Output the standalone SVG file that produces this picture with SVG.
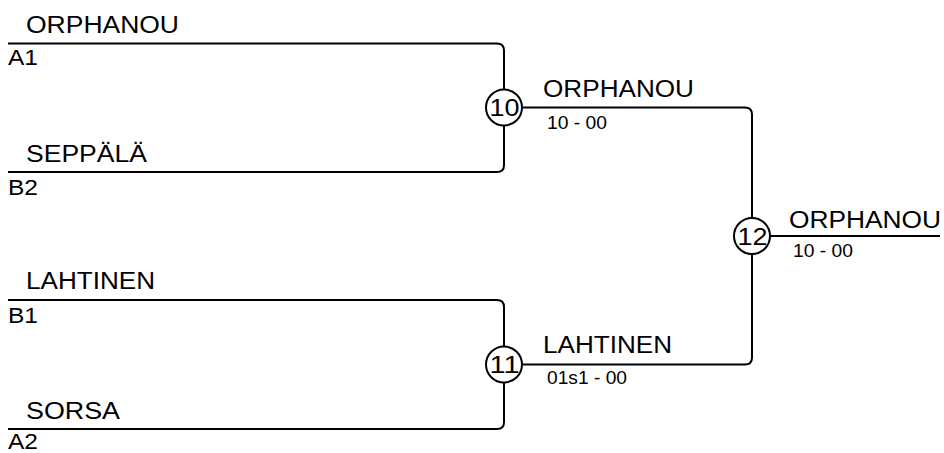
<svg xmlns="http://www.w3.org/2000/svg" width="944" height="453" viewBox="0 0 944 453">
<style>
  .ln{fill:none;stroke:#000;stroke-width:2;stroke-linejoin:round}
  .cir{fill:#fff;stroke:#000;stroke-width:2}
  .nm{font-family:"Liberation Sans",Arial,sans-serif;font-size:23px;fill:#000}
  .sl{font-family:"Liberation Sans",Arial,sans-serif;font-size:22px;fill:#000}
  .sc{font-family:"Liberation Sans",Arial,sans-serif;font-size:18px;fill:#000}
  .no{font-family:"Liberation Sans",Arial,sans-serif;font-size:24px;fill:#000}
</style>
<rect width="944" height="453" fill="#fff"/>
<g id="connectors">
  <path class="ln" d="M8,43.5 H497 Q504,43.5 504,50.5 V165 Q504,172 497,172 H8"/>
  <path class="ln" d="M8,300 H497 Q504,300 504,307 V422 Q504,429 497,429 H8"/>
  <path class="ln" d="M504,107.5 H745 Q752,107.5 752,114.5 V357.5 Q752,364.5 745,364.5 H504"/>
  <path class="ln" d="M752,236 H940"/>
</g>
<g id="entry-a1">
  <text class="nm" x="26" y="32.5" textLength="153" lengthAdjust="spacingAndGlyphs">ORPHANOU</text>
  <text class="sl" x="8" y="65" textLength="30" lengthAdjust="spacingAndGlyphs">A1</text>
</g>
<g id="entry-b2">
  <text class="nm" x="26" y="162" textLength="121" lengthAdjust="spacingAndGlyphs">SEPPÄLÄ</text>
  <text class="sl" x="8" y="195" textLength="30" lengthAdjust="spacingAndGlyphs">B2</text>
</g>
<g id="entry-b1">
  <text class="nm" x="26" y="288.5" textLength="129" lengthAdjust="spacingAndGlyphs">LAHTINEN</text>
  <text class="sl" x="8" y="323" textLength="30" lengthAdjust="spacingAndGlyphs">B1</text>
</g>
<g id="entry-a2">
  <text class="nm" x="26" y="418.5" textLength="94" lengthAdjust="spacingAndGlyphs">SORSA</text>
  <text class="sl" x="8" y="449" textLength="30" lengthAdjust="spacingAndGlyphs">A2</text>
</g>
<g id="match-10">
  <circle class="cir" cx="504" cy="107.5" r="18"/>
  <text class="no" x="489.5" y="116" textLength="30" lengthAdjust="spacingAndGlyphs">10</text>
  <text class="nm" x="543" y="97" textLength="151" lengthAdjust="spacingAndGlyphs">ORPHANOU</text>
  <text class="sc" x="547" y="128.5" textLength="60" lengthAdjust="spacingAndGlyphs">10 - 00</text>
</g>
<g id="match-11">
  <circle class="cir" cx="504" cy="364.5" r="18"/>
  <text class="no" x="489.5" y="373" textLength="30" lengthAdjust="spacingAndGlyphs">11</text>
  <text class="nm" x="543" y="353" textLength="129" lengthAdjust="spacingAndGlyphs">LAHTINEN</text>
  <text class="sc" x="547" y="384" textLength="80" lengthAdjust="spacingAndGlyphs">01s1 - 00</text>
</g>
<g id="match-12">
  <circle class="cir" cx="752" cy="236" r="18"/>
  <text class="no" x="737.5" y="244.5" textLength="30" lengthAdjust="spacingAndGlyphs">12</text>
  <text class="nm" x="789" y="228" textLength="152" lengthAdjust="spacingAndGlyphs">ORPHANOU</text>
  <text class="sc" x="793" y="257" textLength="60" lengthAdjust="spacingAndGlyphs">10 - 00</text>
</g>
</svg>
